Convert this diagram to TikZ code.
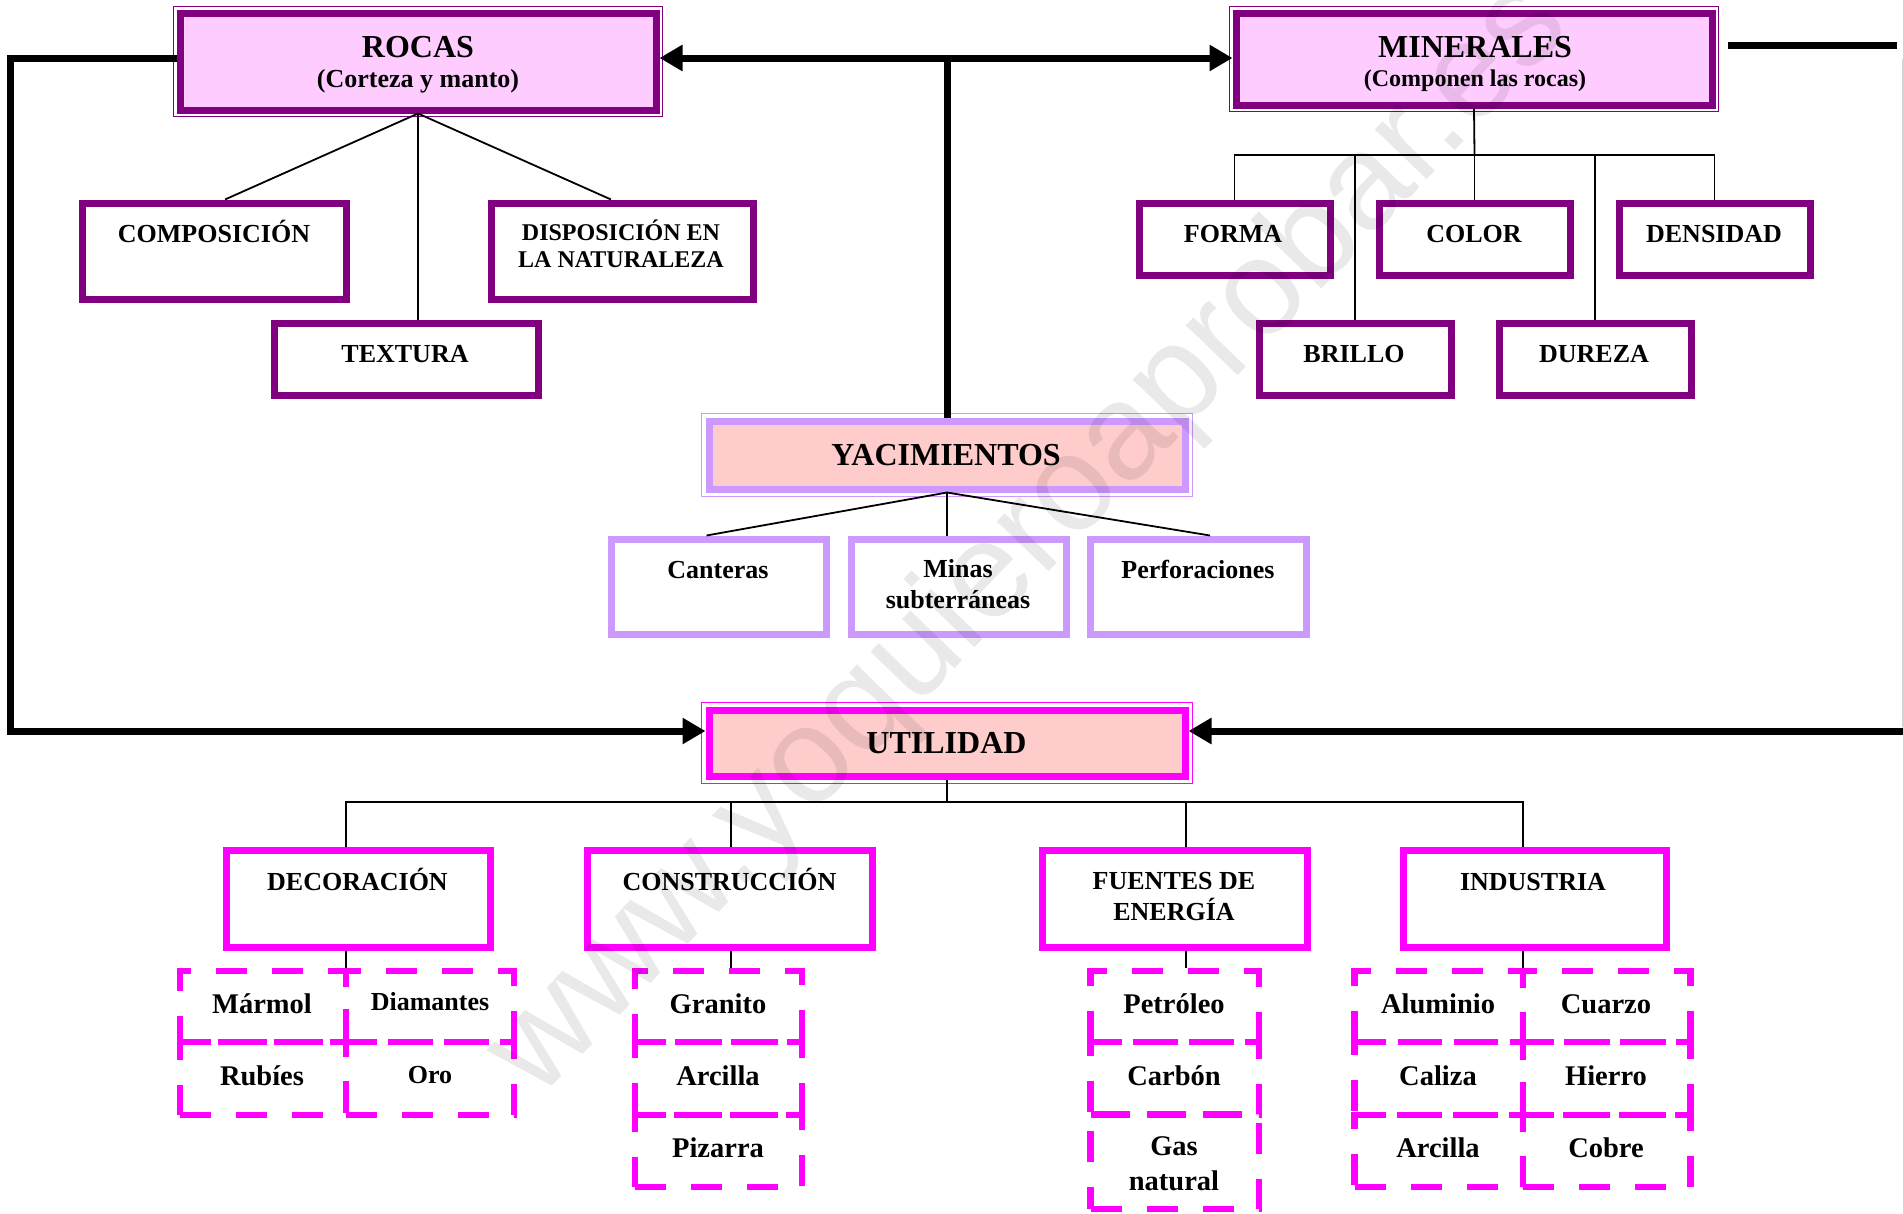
\documentclass[tikz,border=0pt]{standalone}
\usepackage{fontspec}
\setmainfont{Liberation Serif}
\newfontfamily\wmfont{Liberation Sans}
\usetikzlibrary{arrows.meta}
\definecolor{violeta}{RGB}{128,0,128}
\definecolor{rosavio}{RGB}{255,204,255}
\definecolor{lavanda}{RGB}{204,153,255}
\definecolor{rosa}{RGB}{255,204,204}
\definecolor{magenta2}{RGB}{255,0,255}
\begin{document}
\begin{tikzpicture}[x=1pt,y=-1pt,
  boxbase/.style={rectangle, inner sep=0pt, line width=7pt},
  mainbox/.style={boxbase, draw=violeta, fill=rosavio},
  subbox/.style={boxbase, draw=violeta, fill=white},
  yacbox/.style={boxbase, draw=lavanda, fill=rosa},
  yacsub/.style={boxbase, draw=lavanda, fill=white},
  utilbox/.style={boxbase, draw=magenta2, fill=rosa},
  utilsub/.style={boxbase, draw=magenta2, fill=white},
  cellbox/.style={rectangle, inner sep=0pt, draw=magenta2, line width=6.5pt, dash pattern=on 31pt off 25pt},
  frame/.style={line width=1.5pt},
  thinc/.style={line width=1.8pt, draw=black},
  thickc/.style={line width=7pt, draw=black},
  tip/.style={-{Triangle[length=23pt,width=25pt]}},
  txt/.style={anchor=base, inner sep=0pt, font=\bfseries\fontsize{26}{28}\selectfont},
  big/.style={txt, font=\bfseries\fontsize{32}{36}\selectfont},
  mid/.style={txt, font=\bfseries\fontsize{24}{26}\selectfont},
  item/.style={txt, font=\bfseries\fontsize{28.5}{30}\selectfont},
]
\useasboundingbox (0,0) rectangle (1903,1213);
\clip (0,0) rectangle (1903,1213);
\fill[white] (0,0) rectangle (1903,1213);

% ---------- main boxes ----------
\node[mainbox, minimum width=476pt, minimum height=97pt] (rocas) at (418,61.5) {};
\node[mainbox, minimum width=476pt, minimum height=92pt] (minerales) at (1474,59) {};
\node[yacbox, minimum width=476pt, minimum height=68pt] (yac) at (947,455) {};
\node[utilbox, minimum width=476pt, minimum height=66pt] (util) at (947,743) {};
\draw[frame, violeta] ([xshift=-3pt,yshift=3pt]rocas.north west) rectangle ([xshift=3pt,yshift=-3pt]rocas.south east);
\draw[frame, violeta] ([xshift=-3pt,yshift=3pt]minerales.north west) rectangle ([xshift=3pt,yshift=-3pt]minerales.south east);
\draw[frame, lavanda] ([xshift=-4pt,yshift=4pt]yac.north west) rectangle ([xshift=4pt,yshift=-4pt]yac.south east);
\draw[frame, magenta2] ([xshift=-4pt,yshift=4pt]util.north west) rectangle ([xshift=4pt,yshift=-4pt]util.south east);

% ---------- thick connectors ----------
\coordinate (topj) at (947,58);
\coordinate (lc1) at (10.5,58);
\coordinate (lc2) at (10.5,731);
\coordinate (rc1) at (1728,45.5);
\coordinate (rc2) at (1897,45.5);
\coordinate (rc3) at (1912,731);
\draw[thickc, tip] (topj) -- (topj -| rocas.east);
\draw[thickc, tip] (topj) -- (topj -| minerales.west);
\draw[thickc] (topj) -- (topj |- yac.north);
\draw[thickc, tip] (topj -| rocas.west) -- (lc1) -- (lc2) -- (lc2 -| util.west);
\draw[thickc] (rc1) -- (rc2);
\draw[line width=1.5pt, black!18] (1902.5,59) -- (1902.5,727);
\draw[thickc, tip] (rc3) -- (rc3 -| util.east);

% ---------- sub boxes ----------
\node[subbox, minimum width=264pt, minimum height=96pt] (compos) at (214,251) {};
\node[subbox, minimum width=262pt, minimum height=96pt] (dispos) at (622,251) {};
\node[subbox, minimum width=264pt, minimum height=72pt] (textura) at (406,359) {};
\node[subbox, minimum width=191pt, minimum height=72pt] (forma) at (1234.5,239) {};
\node[subbox, minimum width=191pt, minimum height=72pt] (color) at (1474.5,239) {};
\node[subbox, minimum width=191pt, minimum height=72pt] (densidad) at (1714.5,239) {};
\node[subbox, minimum width=192pt, minimum height=72pt] (brillo) at (1355,359) {};
\node[subbox, minimum width=192pt, minimum height=72pt] (dureza) at (1595,359) {};
\node[yacsub, minimum width=215pt, minimum height=95pt] (canteras) at (718.5,586.5) {};
\node[yacsub, minimum width=215pt, minimum height=95pt] (minas) at (958.5,586.5) {};
\node[yacsub, minimum width=216pt, minimum height=95pt] (perfor) at (1198,586.5) {};
\node[utilsub, minimum width=264pt, minimum height=97pt] (decor) at (358,898.5) {};
\node[utilsub, minimum width=285pt, minimum height=97pt] (constr) at (729.5,898.5) {};
\node[utilsub, minimum width=265pt, minimum height=97pt] (fuentes) at (1174.5,898.5) {};
\node[utilsub, minimum width=263pt, minimum height=97pt] (industria) at (1534.5,898.5) {};

% ---------- dashed cells ----------
\node[cellbox, minimum width=166pt, minimum height=71pt] (marmol) at (263,1006.5) {};
\node[cellbox, minimum width=168pt, minimum height=71pt] (diamantes) at (430,1006.5) {};
\node[cellbox, minimum width=166pt, minimum height=73pt] (rubies) at (263,1078.5) {};
\node[cellbox, minimum width=168pt, minimum height=73pt] (oro) at (430,1078.5) {};
\node[cellbox, minimum width=167pt, minimum height=71pt] (granito) at (718.5,1006.5) {};
\node[cellbox, minimum width=167pt, minimum height=73pt] (arcillac) at (718.5,1078.5) {};
\node[cellbox, minimum width=167pt, minimum height=72pt] (pizarra) at (718.5,1151) {};
\node[cellbox, minimum width=168.5pt, minimum height=71pt] (petroleo) at (1174.75,1006.5) {};
\node[cellbox, minimum width=168.5pt, minimum height=72.5pt] (carbon) at (1174.75,1078.25) {};
\node[cellbox, minimum width=168.5pt, minimum height=94.5pt] (gas) at (1174.75,1161.75) {};
\node[cellbox, minimum width=168.5pt, minimum height=71pt] (aluminio) at (1438.75,1006.5) {};
\node[cellbox, minimum width=167.5pt, minimum height=71pt] (cuarzo) at (1606.75,1006.5) {};
\node[cellbox, minimum width=168.5pt, minimum height=73pt] (caliza) at (1438.75,1078.5) {};
\node[cellbox, minimum width=167.5pt, minimum height=73pt] (hierro) at (1606.75,1078.5) {};
\node[cellbox, minimum width=168.5pt, minimum height=72pt] (arcillai) at (1438.75,1151) {};
\node[cellbox, minimum width=167.5pt, minimum height=72pt] (cobre) at (1606.75,1151) {};

% ---------- thin connectors ----------
\draw[thinc] (rocas.south) -- ([xshift=11pt]compos.north);
\draw[thinc] (rocas.south) -- ([xshift=-11pt]dispos.north);
\draw[thinc] (rocas.south) -- (rocas.south |- textura.north);

\coordinate (mj) at (1474.5,155);
\draw[thinc] (minerales.south) -- (mj);
\draw[thinc] (forma.north) -- (mj -| forma.north) -- (mj -| densidad.north) -- (densidad.north);
\draw[thinc] (mj -| brillo.north) -- (brillo.north);
\draw[thinc] (mj) -- (color.north);
\draw[thinc] (mj -| dureza.north) -- (dureza.north);

\draw[thinc] (yac.south) -- ([xshift=-12pt]canteras.north);
\draw[thinc] (yac.south) -- (yac.south |- minas.north);
\draw[thinc] (yac.south) -- ([xshift=12pt]perfor.north);

\coordinate (uj) at (947,802);
\coordinate (u1) at (346,802);
\coordinate (u2) at (731,802);
\coordinate (u3) at (1186,802);
\coordinate (u4) at (1523,802);
\draw[thinc] (util.south) -- (uj);
\draw[thinc] (u1 |- decor.north) -- (u1) -- (u4) -- (u4 |- industria.north);
\draw[thinc] (u2) -- (u2 |- constr.north);
\draw[thinc] (u3) -- (u3 |- fuentes.north);
\draw[thinc] (u1 |- decor.south) -- (u1 |- marmol.north);
\draw[thinc] (u2 |- constr.south) -- (u2 |- granito.north);
\draw[thinc] (u3 |- fuentes.south) -- (u3 |- petroleo.north);
\draw[thinc] (u4 |- industria.south) -- (u4 |- aluminio.north);

% ---------- texts ----------
\node[big] (rocasT) at (418,57) {ROCAS};
\node[txt] (rocasS) at (418,87) {(Corteza y manto)};
\node[big] (minT) at (1475,57) {MINERALES};
\node[mid] (minS) at (1475,86) {(Componen las rocas)};
\node[txt] (composT) at (214,242) {COMPOSICIÓN};
\node[mid] (disposT1) at (621,240) {DISPOSICIÓN EN};
\node[mid] (disposT2) at (621,267) {LA NATURALEZA};
\node[txt] (texturaT) at (405,362) {TEXTURA};
\node[txt] (formaT) at (1233,242) {FORMA};
\node[txt] (colorT) at (1474,242) {COLOR};
\node[txt] (densidadT) at (1714,242) {DENSIDAD};
\node[txt] (brilloT) at (1354,362) {BRILLO};
\node[txt] (durezaT) at (1594,362) {DUREZA};
\node[big] (yacT) at (946,465) {YACIMIENTOS};
\node[txt] (canterasT) at (718,578) {Canteras};
\node[txt] (minasT1) at (958,577) {Minas};
\node[txt] (minasT2) at (958,608) {subterráneas};
\node[txt] (perforT) at (1198,578) {Perforaciones};
\node[big] (utilT) at (946.5,753) {UTILIDAD};
\node[txt] (decorT) at (357.5,890) {DECORACIÓN};
\node[txt] (constrT) at (729.5,890) {CONSTRUCCIÓN};
\node[txt] (fuentesT1) at (1174,889) {FUENTES DE};
\node[txt] (fuentesT2) at (1174,920) {ENERGÍA};
\node[txt] (industriaT) at (1533,890) {INDUSTRIA};
\node[item] (marmolT) at (262,1013) {Mármol};
\node[txt] (diamantesT) at (430,1010) {Diamantes};
\node[item] (rubiesT) at (262,1085) {Rubíes};
\node[txt] (oroT) at (430,1083) {Oro};
\node[item] (granitoT) at (718,1013) {Granito};
\node[item] (arcillacT) at (718,1085) {Arcilla};
\node[item] (pizarraT) at (718,1157) {Pizarra};
\node[item] (petroleoT) at (1174,1013) {Petróleo};
\node[item] (carbonT) at (1174,1085) {Carbón};
\node[item] (gasT1) at (1174,1155) {Gas};
\node[item] (gasT2) at (1174,1190) {natural};
\node[item] (aluminioT) at (1438,1013) {Aluminio};
\node[item] (cuarzoT) at (1606,1013) {Cuarzo};
\node[item] (calizaT) at (1438,1085) {Caliza};
\node[item] (hierroT) at (1606,1085) {Hierro};
\node[item] (arcillaiT) at (1438,1157) {Arcilla};
\node[item] (cobreT) at (1606,1157) {Cobre};

% ---------- watermark ----------
\node[rotate=46, inner sep=0pt, text=black, text opacity=0.085, font=\wmfont\fontsize{136}{136}\selectfont] (wm) at (1030,540) {www.yoquieroaprobar.es};
\end{tikzpicture}
\end{document}
